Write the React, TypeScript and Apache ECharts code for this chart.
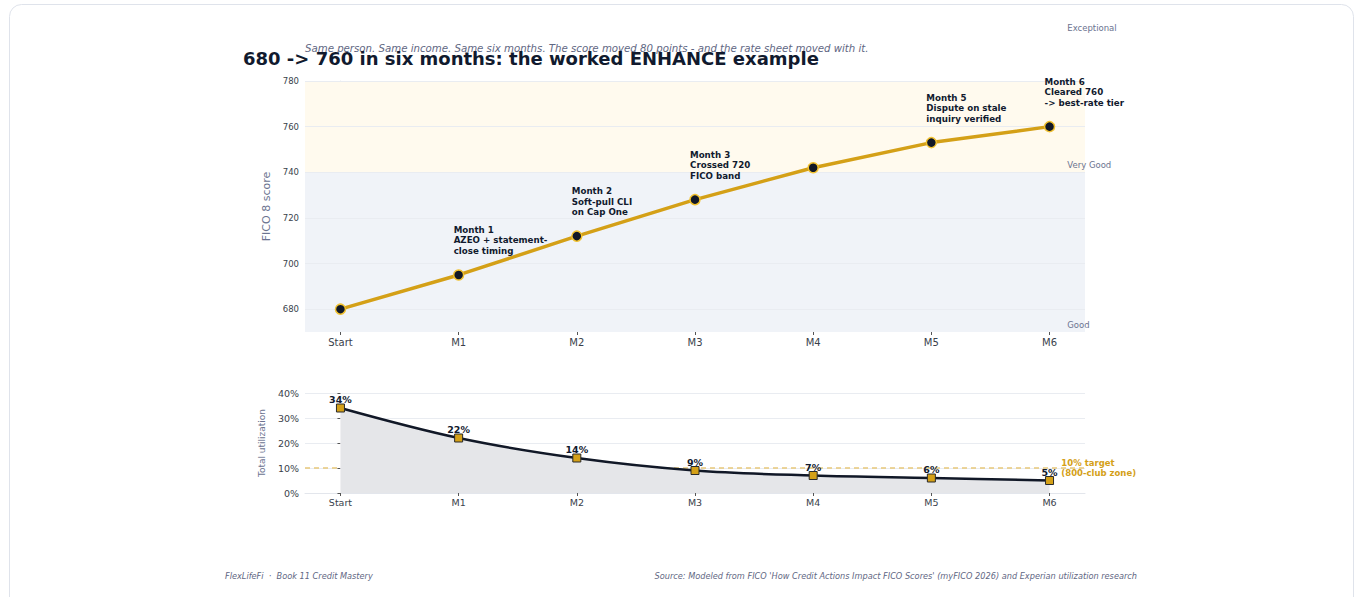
import React, { useEffect, useRef } from "react";
import * as echarts from "echarts";

const categories = ["Start", "M1", "M2", "M3", "M4", "M5", "M6"];
const ficoScores = [680, 695, 712, 728, 742, 753, 760];
const ficoNotes = [
  "",
  "Month 1\nAZEO + statement-\nclose timing",
  "Month 2\nSoft-pull CLI\non Cap One",
  "Month 3\nCrossed 720\nFICO band",
  "",
  "Month 5\nDispute on stale\ninquiry verified",
  "Month 6\nCleared 760\n-> best-rate tier",
];
const utilization = [34, 22, 14, 9, 7, 6, 5];
const ficoTicks = [680, 700, 720, 740, 760, 780];
const bands = [
  { name: "Good", from: 670, to: 740, color: "#f0f3f8" },
  { name: "Very Good", from: 740, to: 800, color: "#fffaee" },
  { name: "Exceptional", from: 800, to: 850, color: "#f3fbf5" },
];
const targetUtil = 10;

const FONT = "DejaVu Sans";

export default function App() {
  const ref = useRef<HTMLDivElement>(null);
  useEffect(() => {
    const chart = echarts.init(ref.current!, null, { renderer: "svg" });
    const idx = categories.map((_, i) => i);
    const axisLabelColor = "#3a3f4b";
    const gridColor = "#e9ecf1";
    const option: any = {
      animation: false,
      textStyle: { fontFamily: FONT },
      grid: [
        { left: 305, right: 1354 - 1085, top: 81, height: 251 },
        { left: 305, right: 1354 - 1085, top: 393, height: 100 },
      ],
      xAxis: [
        {
          type: "value",
          gridIndex: 0,
          min: -0.3,
          max: 6.3,
          splitLine: { show: false },
          axisLine: { show: false },
          axisTick: { show: true, customValues: idx, length: 3, lineStyle: { color: "#555" } },
          axisLabel: {
            customValues: idx,
            formatter: (v: number) => categories[Math.round(v)],
            color: axisLabelColor,
            fontSize: 10,
            margin: 5,
          },
        },
        {
          type: "value",
          gridIndex: 1,
          min: -0.3,
          max: 6.3,
          splitLine: { show: false },
          axisLine: { show: true, lineStyle: { color: "#e3e6ec" } },
          axisTick: { show: true, customValues: idx, length: 3, lineStyle: { color: "#555" } },
          axisLabel: {
            customValues: idx,
            formatter: (v: number) => categories[Math.round(v)],
            color: axisLabelColor,
            fontSize: 9.5,
            margin: 4,
          },
        },
      ],
      yAxis: [
        {
          type: "value",
          gridIndex: 0,
          min: 670,
          max: 780,
          name: "FICO 8 score",
          nameLocation: "middle",
          nameGap: 23,
          nameTextStyle: { color: "#6b7390", fontSize: 11 },
          axisLine: { show: true, lineStyle: { color: "#e3e6ec" } },
          axisTick: { show: true, customValues: ficoTicks, length: 3, lineStyle: { color: "#555" } },
          axisLabel: { customValues: ficoTicks, color: axisLabelColor, fontSize: 8.5, margin: 6 },
          splitLine: { show: false },
        },
        {
          type: "value",
          gridIndex: 1,
          min: 0,
          max: 40,
          interval: 10,
          name: "Total utilization",
          nameLocation: "middle",
          nameGap: 25,
          nameTextStyle: { color: "#6b7390", fontSize: 9 },
          axisLine: { show: false },
          axisTick: { show: true, length: 3, lineStyle: { color: "#555" } },
          axisLabel: { formatter: "{value}%", color: axisLabelColor, fontSize: 9.5, margin: 6 },
          splitLine: { show: true, lineStyle: { color: gridColor } },
        },
      ],
      series: [
        {
          type: "line",
          xAxisIndex: 0,
          yAxisIndex: 0,
          data: ficoScores.map((v, i) => ({
            value: [i, v],
            label: ficoNotes[i]
              ? { show: true, formatter: ficoNotes[i] }
              : { show: false },
          })),
          lineStyle: { color: "#d4a017", width: 3.5 },
          symbol: "circle",
          symbolSize: 10,
          itemStyle: { color: "#111827", borderColor: "#f2c230", borderWidth: 1.5 },
          label: {
            position: "top",
            align: "left",
            verticalAlign: "bottom",
            offset: [-5, -8],
            fontSize: 8.7,
            lineHeight: 10.5,
            fontWeight: "bold",
            color: "#111a2e",
          },
          z: 5,
          markArea: {
            silent: true,
            data: bands.map((b) => [
              { yAxis: b.from, itemStyle: { color: b.color } },
              { yAxis: b.to },
            ]),
          },
          markLine: {
            silent: true,
            symbol: "none",
            label: { show: false },
            lineStyle: { color: gridColor, type: "solid", width: 1 },
            data: ficoTicks.map((t) => ({ yAxis: t })),
          },
        },
        {
          type: "line",
          xAxisIndex: 1,
          yAxisIndex: 1,
          data: utilization.map((v, i) => [i, v]),
          smooth: 0.35,
          lineStyle: { color: "#111827", width: 2.5 },
          areaStyle: { color: "#e5e6e9", opacity: 1 },
          symbol: "rect",
          symbolSize: 8,
          itemStyle: { color: "#d4a017", borderColor: "#2a2a2a", borderWidth: 1 },
          label: {
            show: true,
            position: "top",
            distance: -1,
            formatter: (p: any) => p.value[1] + "%",
            fontSize: 9.5,
            fontWeight: "bold",
            color: "#111a2e",
          },
          z: 5,
          markLine: {
            silent: true,
            symbol: "none",
            label: { show: false },
            lineStyle: { color: "#e8c87a", type: [5, 4], width: 1.5 },
            data: [{ yAxis: targetUtil }],
          },
        },
      ],
    };
    chart.setOption(option);

    const graphics: any[] = [
      {
        type: "rect",
        z: -10,
        shape: { x: 9.5, y: 4.5, width: 1344, height: 640, r: 12 },
        style: { fill: "#ffffff", stroke: "#dfe3eb", lineWidth: 1 },
      },
      {
        type: "text",
        x: 305,
        y: 48,
        z: 100,
        style: {
          text: "Same person. Same income. Same six months. The score moved 80 points - and the rate sheet moved with it.",
          font: `italic 10.2px "${FONT}"`,
          fill: "#5f6783",
          verticalAlign: "middle",
        },
      },
      {
        type: "text",
        x: 243,
        y: 58,
        z: 101,
        style: {
          text: "680 -> 760 in six months: the worked ENHANCE example",
          font: `bold 18px "${FONT}"`,
          fill: "#111a2e",
          verticalAlign: "middle",
        },
      },
      {
        type: "text",
        x: 225,
        y: 576,
        z: 100,
        style: {
          text: "FlexLifeFi  ·  Book 11 Credit Mastery",
          font: `italic 8.2px "${FONT}"`,
          fill: "#5f6783",
          verticalAlign: "middle",
        },
      },
      {
        type: "text",
        x: 1137,
        y: 576,
        z: 100,
        style: {
          text: "Source: Modeled from FICO 'How Credit Actions Impact FICO Scores' (myFICO 2026) and Experian utilization research",
          font: `italic 8.2px "${FONT}"`,
          fill: "#5f6783",
          align: "right",
          verticalAlign: "middle",
        },
      },
    ];
    bands.forEach((b) => {
      const p = chart.convertToPixel({ gridIndex: 0 } as any, [6.15, b.from]) as number[];
      graphics.push({
        type: "text",
        x: p[0],
        y: p[1] - 3,
        z: 100,
        style: { text: b.name, font: `8.5px "${FONT}"`, fill: "#6b7390", verticalAlign: "bottom" },
      });
    });
    const tp = chart.convertToPixel({ gridIndex: 1 } as any, [6.1, targetUtil]) as number[];
    graphics.push({
      type: "text",
      x: tp[0],
      y: tp[1],
      z: 100,
      style: {
        text: "10% target\n(800-club zone)",
        font: `bold 8.5px "${FONT}"`,
        fill: "#d4a017",
        verticalAlign: "middle",
        lineHeight: 10,
      },
    });
    chart.setOption({ graphic: graphics });

    return () => chart.dispose();
  }, []);
  return (
    <div
      ref={ref}
      style={{ position: "absolute", left: 0, top: 0, width: 1354, height: 597 }}
    />
  );
}
